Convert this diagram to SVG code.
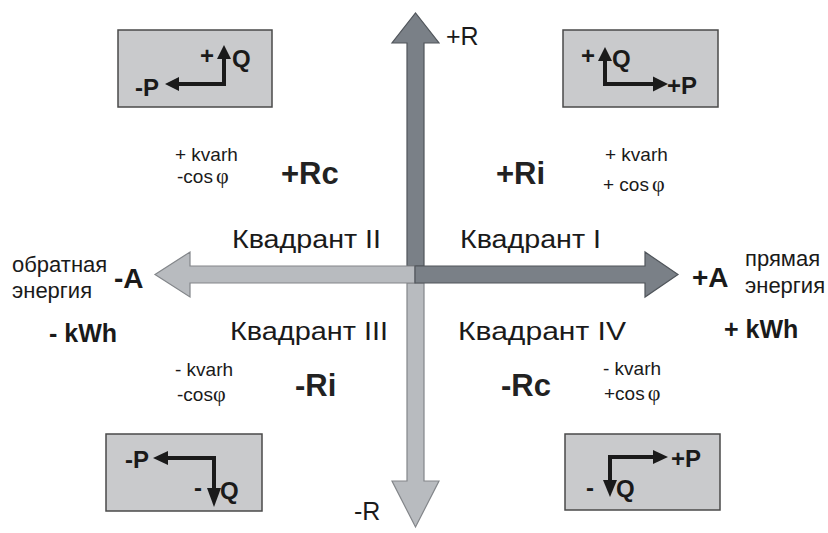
<svg xmlns="http://www.w3.org/2000/svg" width="828" height="533" viewBox="0 0 828 533">
<defs>
<style>
text{font-family:"Liberation Sans",Arial,sans-serif;fill:#1a1a1a}
.b{font-weight:bold}
.axis-dark{fill:#7a8087;stroke:#50555b;stroke-width:1.2}
.axis-light{fill:#b8bbbf;stroke:#83868a;stroke-width:1.2}
.box{fill:#c9cacc;stroke:#4a4a4a;stroke-width:1.5}
.bl{stroke:#1a1a1a;stroke-width:4;fill:none}
.bh{fill:#1a1a1a}
.q{font-size:24px;font-weight:bold}
.small{font-size:19px}
.quad{font-size:26px}
.big{font-size:31px;font-weight:bold;fill:#222}
.phi{font-family:"Liberation Serif","DejaVu Serif",serif}
.lab{font-size:22px}
</style>
</defs>
<rect width="828" height="533" fill="#ffffff"/>

<g id="connectors">
<polygon class="axis-dark" points="407,266 407,43 392,43 415.5,13 439,43 424,43 424,266"/>
<polygon class="axis-light" points="407,283 407,481 392,481 415.5,527 439,481 424,481 424,283"/>
<polygon class="axis-light" points="415,266 190,266 190,252 155,274.5 190,297 190,283 415,283"/>
<polygon class="axis-dark" points="415,266 645,266 645,252 678,274.5 645,297 645,283 415,283"/>
</g>

<g id="axis-labels">
<text x="446" y="45" style="font-size:25px">+R</text>
<text x="354" y="520" style="font-size:25px">-R</text>
</g>

<g id="box-q2">
<rect class="box" x="118" y="30" width="154" height="77"/>
<text class="q" x="200" y="64">+</text>
<polyline class="bl" points="224,84 224,58"/>
<polygon class="bh" points="224,45 217,59 231,59"/>
<text class="q" x="232" y="67">Q</text>
<polyline class="bl" points="226,84 177,84"/>
<polygon class="bh" points="165,84 179,77 179,91"/>
<text class="q" x="135" y="96">-P</text>
</g>

<g id="box-q1">
<rect class="box" x="563" y="30" width="155" height="77"/>
<text class="q" x="581" y="64">+</text>
<polyline class="bl" points="605,86 605,60"/>
<polygon class="bh" points="605,47 598,61 612,61"/>
<text class="q" x="612" y="67">Q</text>
<polyline class="bl" points="603,84 655,84"/>
<polygon class="bh" points="668,84 653,76.5 653,91.5"/>
<text class="q" x="667" y="94">+P</text>
</g>

<g id="box-q3">
<rect class="box" x="106" y="434" width="156" height="77"/>
<text class="q" x="125" y="468">-P</text>
<polyline class="bl" points="216,458 166,458"/>
<polygon class="bh" points="153,458 168,451 168,465"/>
<polyline class="bl" points="214,456 214,490"/>
<polygon class="bh" points="214,507 207,488 221,488"/>
<text class="q" x="194" y="496">-</text>
<text class="q" x="220" y="499">Q</text>
</g>

<g id="box-q4">
<rect class="box" x="565" y="434" width="155" height="76"/>
<polyline class="bl" points="608,457 655,457"/>
<polygon class="bh" points="668,457 653,450 653,464"/>
<text class="q" x="671" y="467">+P</text>
<polyline class="bl" points="610,455 610,482"/>
<polygon class="bh" points="610,497 603,480 617,480"/>
<text class="q" x="586" y="496">-</text>
<text class="q" x="616" y="497">Q</text>
</g>

<g id="quadrant-2">
<text class="small" x="175" y="161">+ kvarh</text>
<text class="small" x="177" y="183">-cos<tspan class="phi" dx="3" font-size="22">φ</tspan></text>
<text class="big" x="281" y="184">+Rc</text>
<text class="quad" x="232" y="248" textLength="149" lengthAdjust="spacingAndGlyphs">Квадрант II</text>
</g>

<g id="quadrant-1">
<text class="big" x="496" y="184">+Ri</text>
<text class="small" x="605" y="161">+ kvarh</text>
<text class="small" x="603" y="191">+ cos<tspan class="phi" dx="3" font-size="22">φ</tspan></text>
<text class="quad" x="460" y="248" textLength="141" lengthAdjust="spacingAndGlyphs">Квадрант I</text>
</g>

<g id="quadrant-3">
<text class="quad" x="230" y="340" textLength="158" lengthAdjust="spacingAndGlyphs">Квадрант III</text>
<text class="small" x="175" y="376">- kvarh</text>
<text class="small" x="177" y="401">-cos<tspan class="phi" font-size="22">φ</tspan></text>
<text class="big" x="295" y="396">-Ri</text>
</g>

<g id="quadrant-4">
<text class="quad" x="458" y="340" textLength="168" lengthAdjust="spacingAndGlyphs">Квадрант IV</text>
<text class="big" x="501" y="396">-Rc</text>
<text class="small" x="603" y="375">- kvarh</text>
<text class="small" x="604" y="400">+cos<tspan class="phi" dx="3" font-size="22">φ</tspan></text>
</g>

<g id="reverse-energy">
<text class="lab" x="12" y="272">обратная</text>
<text class="lab" x="12" y="298">энергия</text>
<text class="b" x="114" y="288" style="font-size:28px">-A</text>
<text class="b" x="49" y="342" style="font-size:25px">- kWh</text>
</g>

<g id="forward-energy">
<text class="b" x="692" y="287" style="font-size:28px">+A</text>
<text class="lab" x="745" y="266">прямая</text>
<text class="lab" x="745" y="293">энергия</text>
<text class="b" x="724" y="338" style="font-size:25px">+ kWh</text>
</g>
</svg>
